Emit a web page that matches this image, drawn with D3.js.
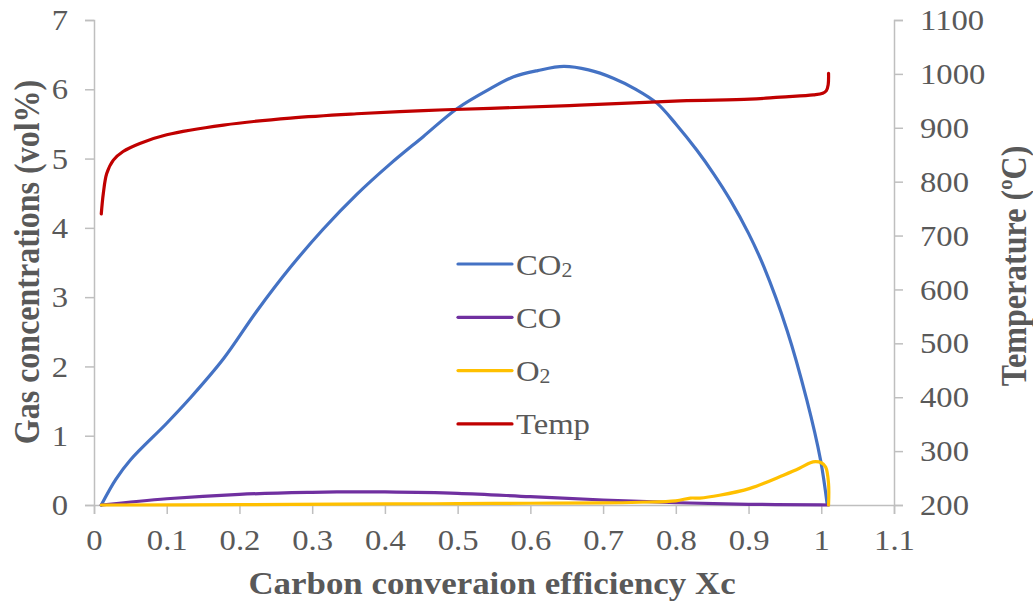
<!DOCTYPE html>
<html><head><meta charset="utf-8">
<script src="https://cdn.jsdelivr.net/npm/d3@7"></script>
<style>
html,body{margin:0;padding:0;background:#fff;}
svg{display:block;}
</style>
</head><body>
<svg id="chart" width="1033" height="605" font-family="'Liberation Serif','Times New Roman','DejaVu Serif',serif"></svg>
<script>
// ---- data ----
const xTicks = [0,0.1,0.2,0.3,0.4,0.5,0.6,0.7,0.8,0.9,1,1.1];
const leftTicks = [0,1,2,3,4,5,6,7];
const rightTicks = [200,300,400,500,600,700,800,900,1000,1100];

const co2X = [0.01,0.03,0.05,0.1,0.132,0.178,0.224,0.27,0.315,0.361,0.407,0.453,0.499,0.545,0.577,0.61,0.646,0.68,0.714,0.745,0.774,0.8,0.829,0.852,0.875,0.9,0.921,0.953,0.98,0.999,1.008];
const co2Y = [0,0.37,0.65,1.18,1.54,2.11,2.80,3.43,3.98,4.48,4.92,5.32,5.72,6.01,6.18,6.27,6.33,6.28,6.16,6.0,5.80,5.5,5.12,4.78,4.40,3.92,3.44,2.52,1.52,0.65,0.02];

const coX = [0.01,0.1,0.2,0.3,0.35,0.4,0.5,0.6,0.7,0.8,0.9,1.0,1.01];
const coY = [0,0.09,0.154,0.183,0.19,0.188,0.168,0.12,0.072,0.034,0.01,0.003,0];

const o2X = [0.01,0.2,0.4,0.5,0.6,0.7,0.75,0.8,0.82,0.833,0.86,0.902,0.948,0.97,0.985,0.992,1.0,1.006,1.010,1.010];
const o2Y = [0,0.005,0.015,0.02,0.025,0.03,0.04,0.06,0.1,0.1,0.14,0.24,0.43,0.53,0.61,0.625,0.61,0.55,0.31,0];

const tempX = [0.01,0.0128,0.0175,0.0266,0.04,0.063,0.1,0.178,0.27,0.361,0.453,0.545,0.668,0.806,0.902,0.944,0.989,1.002,1.007,1.0095,1.010];
const tempY = [740,778,815,840,856,871,887,905,918,926,932,936,942,950,953,957,961,964,969,980,1001];

const legendItems = [
  {label:"CO", sub:"2", color:"#4472C4"},
  {label:"CO", sub:"",  color:"#7030A0"},
  {label:"O",  sub:"2", color:"#FFC000"},
  {label:"Temp", sub:"", color:"#C00000"}
];

// ---- layout ----
const FONT = "'Liberation Serif','Times New Roman','DejaVu Serif',serif";
const SX = 1.09; // horizontal stretch of the original picture
const svg = d3.select("#chart");
const m = {left:94, right:894, top:20, bottom:505};
const textColor = "#595959", axisColor = "#BFBFBF";

const x = d3.scaleLinear().domain([0,1.1]).range([m.left,m.right]);
const yL = d3.scaleLinear().domain([0,7]).range([m.bottom,m.top]);
const yR = d3.scaleLinear().domain([200,1100]).range([m.bottom,m.top]);

function styleAxis(g){
  g.attr("font-family",FONT);
  g.select(".domain").attr("stroke",axisColor).attr("stroke-width",1.5);
  g.selectAll(".tick line").attr("stroke",axisColor).attr("stroke-width",1.5);
  g.selectAll(".tick text").attr("fill",textColor).attr("font-size",30)
   .each(function(){
     const t = d3.select(this);
     const tx = +t.attr("x") || 0, ty = +t.attr("y") || 0;
     t.attr("x",0).attr("y",0).attr("transform",`translate(${tx},${ty}) scale(${SX},1)`);
   });
}

const gx = svg.append("g").attr("transform",`translate(0,${m.bottom})`)
  .call(d3.axisBottom(x).tickValues(xTicks).tickFormat(d=>String(+d.toFixed(1))).tickSizeOuter(0).tickSize(9).tickPadding(15));
styleAxis(gx);
const gl = svg.append("g").attr("transform",`translate(${m.left},0)`)
  .call(d3.axisLeft(yL).tickValues(leftTicks).tickFormat(d3.format("d")).tickSizeOuter(0).tickSize(9).tickPadding(17));
styleAxis(gl);
const gr = svg.append("g").attr("transform",`translate(${m.right},0)`)
  .call(d3.axisRight(yR).tickValues(rightTicks).tickFormat(d3.format("d")).tickSizeOuter(0).tickSize(9).tickPadding(17));
styleAxis(gr);

// ---- lines ----
const curve = d3.curveCatmullRom.alpha(0.5);
function drawLine(xs, ys, yScale, color){
  const pts = xs.map((v,i)=>[v, ys[i]]);
  svg.append("path").datum(pts)
    .attr("fill","none").attr("stroke",color).attr("stroke-width",3.2)
    .attr("stroke-linejoin","round").attr("stroke-linecap","round")
    .attr("d", d3.line().x(d=>x(d[0])).y(d=>yScale(d[1])).curve(curve));
}
drawLine(co2X, co2Y, yL, "#4472C4");
drawLine(coX, coY, yL, "#7030A0");
drawLine(o2X, o2Y, yL, "#FFC000");
drawLine(tempX, tempY, yR, "#C00000");

// ---- legend ----
const lg = svg.append("g");
legendItems.forEach((it,i)=>{
  const yy = 264 + i*53.3;
  lg.append("line").attr("x1",458).attr("x2",512).attr("y1",yy).attr("y2",yy)
    .attr("stroke",it.color).attr("stroke-width",3.2).attr("stroke-linecap","round");
  const t = lg.append("text").attr("transform",`translate(516,${yy}) scale(${SX},1)`).attr("dy","0.35em")
    .attr("fill",textColor).attr("font-size",30).attr("font-family",FONT);
  t.append("tspan").text(it.label);
  if(it.sub) t.append("tspan").text(it.sub).attr("font-size",20).attr("dy","0.1em");
});

// ---- axis titles ----
svg.append("text").attr("transform",`translate(27,262) rotate(-90) scale(1,${SX})`)
  .attr("text-anchor","middle").attr("dy","0.35em").attr("font-family",FONT)
  .attr("fill",textColor).attr("font-size",32).attr("font-weight","bold")
  .text("Gas concentrations (vol%)");
svg.append("text").attr("transform",`translate(1014,266) rotate(-90) scale(1,${SX})`)
  .attr("text-anchor","middle").attr("dy","0.35em").attr("font-family",FONT)
  .attr("fill",textColor).attr("font-size",32).attr("font-weight","bold")
  .text("Temperature (ºC)");
svg.append("text").attr("transform",`translate(492,594) scale(${SX},1)`)
  .attr("text-anchor","middle").attr("font-family",FONT)
  .attr("fill",textColor).attr("font-size",32).attr("font-weight","bold")
  .text("Carbon converaion efficiency Xc");
</script>
</body></html>
